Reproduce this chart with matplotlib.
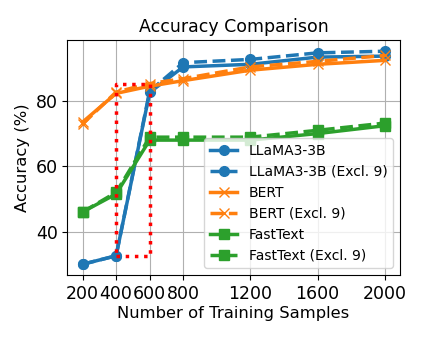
import matplotlib.pyplot as plt

# data
samples = [200, 400, 600, 800, 1200, 1600, 2000]

llama = [30.0, 32.6, 82.6, 90.4, 91.2, 93.4, 93.7]
llama_excl = [30.0, 32.6, 83.0, 91.7, 92.7, 94.7, 95.2]

bert = [73.5, 82.3, 84.5, 86.2, 89.4, 91.2, 92.4]
bert_excl = [72.9, 82.7, 85.3, 86.8, 90.4, 92.1, 93.9]

fasttext = [46.0, 51.5, 68.0, 68.0, 68.0, 70.0, 72.4]
fasttext_excl = [46.0, 52.0, 68.9, 68.9, 68.9, 71.0, 73.2]

# highlighted region (x from 400 to 600)
box_x = [400, 600]
box_y = [32.5, 85.2]

plt.rcParams['font.size'] = 12

fig = plt.figure(figsize=(4.24, 3.4), dpi=100)
ax = fig.add_axes([0.159, 0.191, 0.784, 0.691])

ax.plot(samples, llama, marker='o', color='#1f77b4', lw=2.5, ms=7, label='LLaMA3-3B')
ax.plot(samples, llama_excl, marker='o', color='#1f77b4', lw=2.5, ms=7, ls='--', label='LLaMA3-3B (Excl. 9)')
ax.plot(samples, bert, marker='x', color='#ff7f0e', lw=2.5, ms=7, label='BERT')
ax.plot(samples, bert_excl, marker='x', color='#ff7f0e', lw=2.5, ms=7, ls='--', label='BERT (Excl. 9)')
ax.plot(samples, fasttext, marker='s', color='#2ca02c', lw=2.5, ms=7, label='FastText')
ax.plot(samples, fasttext_excl, marker='s', color='#2ca02c', lw=2.5, ms=7, ls='--', label='FastText (Excl. 9)')

# red dotted box
ax.plot([box_x[0], box_x[1], box_x[1], box_x[0], box_x[0]],
        [box_y[0], box_y[0], box_y[1], box_y[1], box_y[0]],
        color='red', ls=':', lw=2.5)

ax.set_xticks(samples)
ax.set_yticks([40, 60, 80])
ax.tick_params(labelsize=12.5)
ax.set_ylim(26.7, 98.6)
ax.set_xlim(110, 2090)
ax.set_xlabel('Number of Training Samples', fontsize=11.8, labelpad=2)
ax.set_ylabel('Accuracy (%)', fontsize=11.8)
ax.set_title('Accuracy Comparison', fontsize=12.5)
ax.grid(True)
ax.legend(loc='lower right', fontsize=10)

fig.savefig('out.png')
